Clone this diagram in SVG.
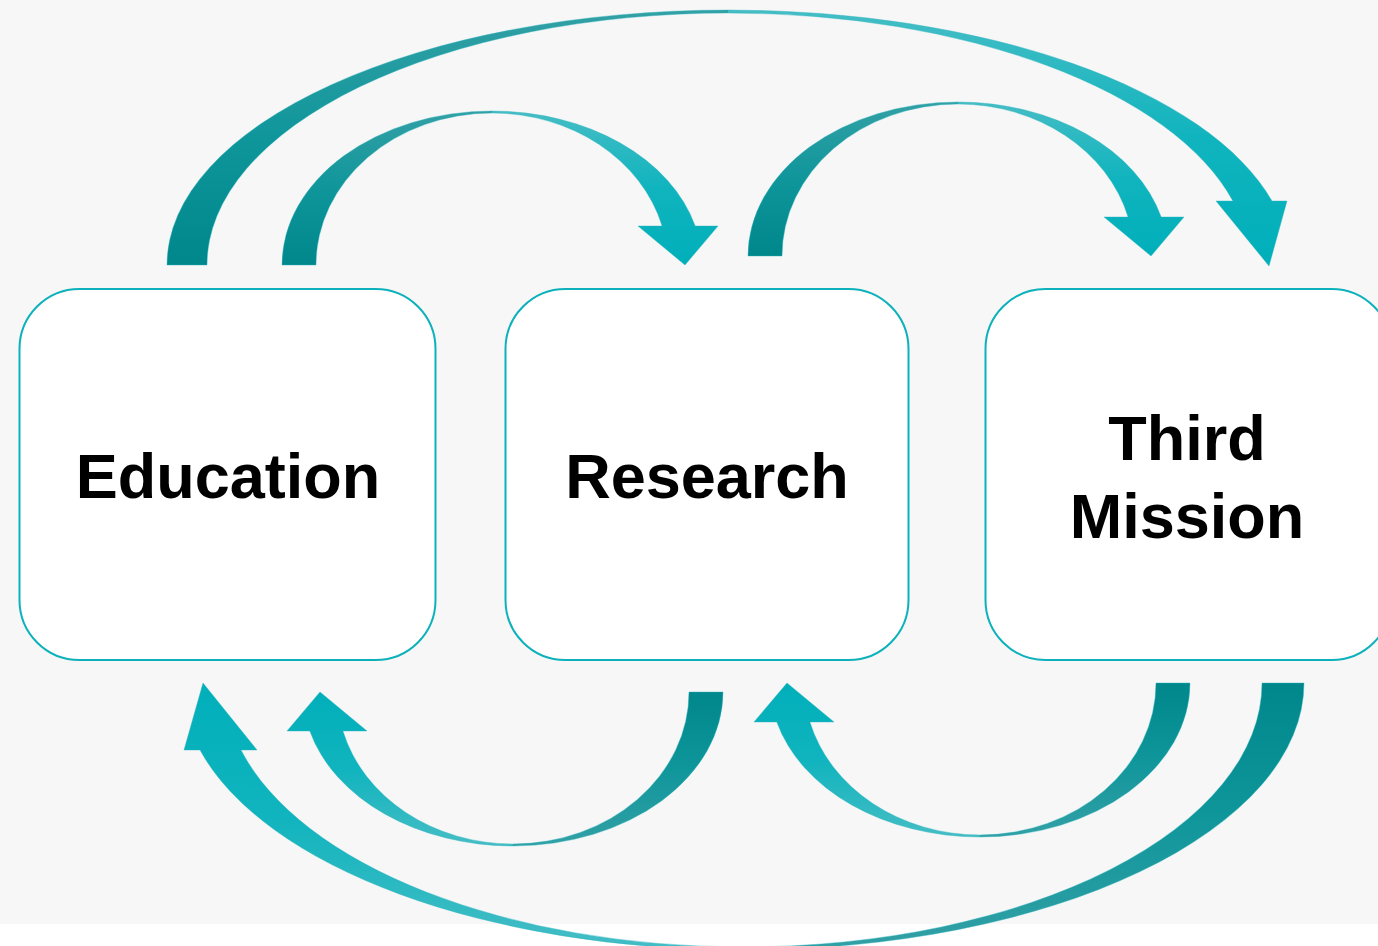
<svg xmlns="http://www.w3.org/2000/svg" width="1378" height="946" viewBox="0 0 1378 946">
  <defs>
    <linearGradient id="gDark" x1="0" y1="1" x2="0" y2="0">
      <stop offset="0" stop-color="#00878c"/>
      <stop offset="0.5" stop-color="#0f969b"/>
      <stop offset="1" stop-color="#33a0a5"/>
    </linearGradient>
    <linearGradient id="gLight" x1="0" y1="0" x2="0" y2="1">
      <stop offset="0" stop-color="#45bdc5"/>
      <stop offset="0.5" stop-color="#10b4be"/>
      <stop offset="1" stop-color="#00afba"/>
    </linearGradient>
    <linearGradient id="gDarkB" x1="0" y1="0" x2="0" y2="1">
      <stop offset="0" stop-color="#00878c"/>
      <stop offset="0.5" stop-color="#0f969b"/>
      <stop offset="1" stop-color="#33a0a5"/>
    </linearGradient>
    <linearGradient id="gLightB" x1="0" y1="1" x2="0" y2="0">
      <stop offset="0" stop-color="#45bdc5"/>
      <stop offset="0.5" stop-color="#10b4be"/>
      <stop offset="1" stop-color="#00afba"/>
    </linearGradient>
    <style>
      .dark { fill: url(#gDark); stroke: #2bb5be; stroke-width: 0.8; stroke-opacity: 0.5; }
      .light { fill: url(#gLight); stroke: #2bb5be; stroke-width: 0.8; stroke-opacity: 0.5; }
      .darkB { fill: url(#gDarkB); stroke: #2bb5be; stroke-width: 0.8; stroke-opacity: 0.5; }
      .lightB { fill: url(#gLightB); stroke: #2bb5be; stroke-width: 0.8; stroke-opacity: 0.5; }
      .box { fill: #ffffff; stroke: #0db1bb; stroke-width: 2; }
      .lbl { font-family: "Liberation Sans", Arial, sans-serif; font-weight: bold; font-size: 63px; fill: #000000; text-anchor: middle; }
    </style>
  </defs>

  <rect x="0" y="0" width="1378" height="924" fill="#f7f7f7"/>
  <rect x="0" y="924" width="1378" height="22" fill="#ffffff"/>

  <g id="connectors">
    <!-- Education -> Research (small top) -->
    <g id="arrow-edu-res">
      <path class="dark" d="M282,265 A210,154 0 0 1 492,111 L492,113 A176,152 0 0 0 316,265 Z"/>
      <path class="light" d="M492,111 A210,154 0 0 1 695.2,226 L718,226 L685,265 L638,226 L662.1,226 A176,152 0 0 0 492,113 Z"/>
    </g>
    <!-- Research -> Third Mission (small top) -->
    <g id="arrow-res-tm" transform="translate(466,-9)">
      <path class="dark" d="M282,265 A210,154 0 0 1 492,111 L492,113 A176,152 0 0 0 316,265 Z"/>
      <path class="light" d="M492,111 A210,154 0 0 1 695.2,226 L718,226 L685,265 L638,226 L662.1,226 A176,152 0 0 0 492,113 Z"/>
    </g>
    <!-- Education -> Third Mission (big top) -->
    <g id="arrow-edu-tm">
      <path class="dark" d="M167,265 A561.5,255 0 0 1 728.5,10 L728.5,13 A521.5,252 0 0 0 207,265 Z"/>
      <path class="light" d="M728.5,10 A561.5,255 0 0 1 1272,201 L1287,201 L1269,266 L1216,201 L1232.9,201 A521.5,252 0 0 0 728.5,13 Z"/>
    </g>
    <!-- Research -> Education (small bottom) -->
    <g id="arrow-res-edu" transform="rotate(180,502.5,478.5)">
      <path class="dark" d="M282,265 A210,154 0 0 1 492,111 L492,113 A176,152 0 0 0 316,265 Z"/>
      <path class="light" d="M492,111 A210,154 0 0 1 695.2,226 L718,226 L685,265 L638,226 L662.1,226 A176,152 0 0 0 492,113 Z"/>
    </g>
    <!-- Third Mission -> Research (small bottom) -->
    <g id="arrow-tm-res" transform="translate(467,-9) rotate(180,502.5,478.5)">
      <path class="dark" d="M282,265 A210,154 0 0 1 492,111 L492,113 A176,152 0 0 0 316,265 Z"/>
      <path class="light" d="M492,111 A210,154 0 0 1 695.2,226 L718,226 L685,265 L638,226 L662.1,226 A176,152 0 0 0 492,113 Z"/>
    </g>
    <!-- Third Mission -> Education (big bottom) -->
    <g id="arrow-tm-edu">
      <path class="darkB" d="M1304,683 A561,267 0 0 1 743,950 L743,947 A519,264 0 0 0 1262,683 Z"/>
      <path class="lightB" d="M743,950 A561,267 0 0 1 200,750 L184,750 L203,683 L257,750 L241,750 A519,264 0 0 0 743,947 Z"/>
    </g>
  </g>

  <g id="node-education">
    <rect class="box" x="19.5" y="289" width="416" height="371" rx="60" ry="60"/>
    <text class="lbl" x="228" y="498">Education</text>
  </g>
  <g id="node-research">
    <rect class="box" x="505.5" y="289" width="403" height="371" rx="60" ry="60"/>
    <text class="lbl" x="707" y="498">Research</text>
  </g>
  <g id="node-third-mission">
    <rect class="box" x="985.5" y="289" width="406" height="371" rx="60" ry="60"/>
    <text class="lbl" x="1187" y="460">Third</text>
    <text class="lbl" x="1187" y="538">Mission</text>
  </g>
</svg>
